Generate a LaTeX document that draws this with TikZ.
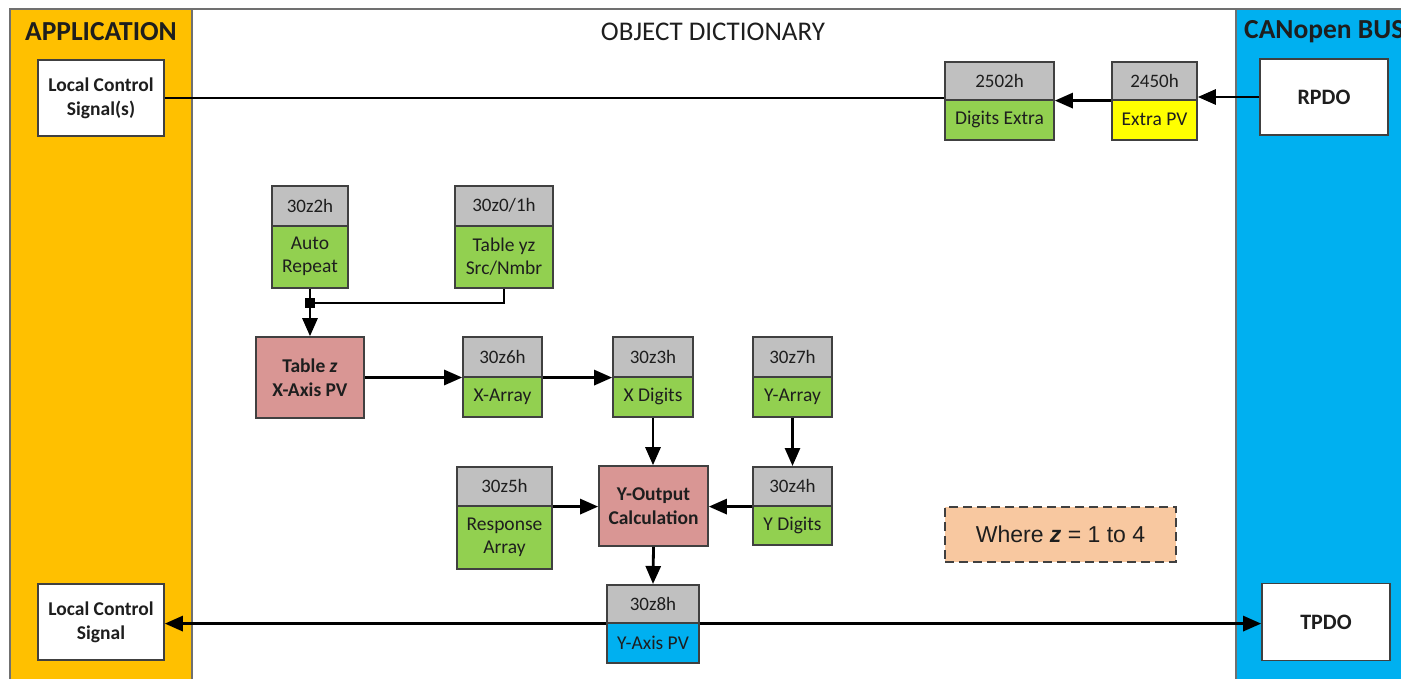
\documentclass[tikz,border=0pt]{standalone}
\usepackage{fontspec}
\setmainfont{Carlito}
\newfontfamily\arialf{Liberation Sans}
\usetikzlibrary{arrows.meta}
\definecolor{appor}{HTML}{FFC000}
\definecolor{busblue}{HTML}{00B0F0}
\definecolor{hdrgray}{HTML}{C0C0C0}
\definecolor{objgreen}{HTML}{92D050}
\definecolor{calcpink}{HTML}{D99694}
\definecolor{pvyellow}{HTML}{FFFF00}
\definecolor{notepeach}{HTML}{F8C8A0}
\definecolor{bord}{HTML}{404040}
\definecolor{panelbord}{HTML}{707070}
\definecolor{txt}{HTML}{1E1E1E}
\tikzset{
  hdr/.style={draw=bord, fill=hdrgray, line width=1.6pt, inner sep=0pt, text=txt, font=\fontsize{19}{22}\selectfont},
  bodyb/.style={draw=bord, line width=1.6pt, inner sep=0pt, align=center, text=txt, font=\fontsize{19.5}{23}\selectfont},
  sigbox/.style={draw=bord, fill=white, line width=1.6pt, inner sep=0pt, align=center, text=txt, font=\bfseries\fontsize{19.5}{24}\selectfont},
  calcbox/.style={draw=bord, fill=calcpink, line width=1.6pt, inner sep=0pt, align=center, text=txt, font=\bfseries\fontsize{19.5}{24}\selectfont},
  conn/.style={line width=2.8pt, draw=black},
  arr/.style={conn, -{Triangle[length=18pt,width=15pt]}},
}
\newcommand\objbox[9]{%
  \pgfmathsetmacro\obcx{(#2+#3)/2}%
  \pgfmathsetmacro\obw{#3-#2}%
  \pgfmathsetmacro\obhh{#5-#4}%
  \pgfmathsetmacro\obbh{#6-#5}%
  \node[hdr, minimum width=\obw pt, minimum height=\obhh pt, anchor=north] (#1h) at (\obcx,#4) {#7};
  \node[bodyb, fill=#9, minimum width=\obw pt, minimum height=\obbh pt, anchor=north] (#1b) at (\obcx,#5) {#8};
}
\begin{document}
\begin{tikzpicture}[x=1pt,y=-1pt]
\clip (0,0) rectangle (1401,679);
% panels
\fill[white] (0,0) rectangle (1401,679);
\draw[panelbord, line width=1.5pt, fill=white] (10,9) rectangle (1430,720);
\draw[panelbord, line width=1.5pt, fill=appor] (10,9) rectangle (192,720);
\draw[panelbord, line width=1.5pt, fill=busblue] (1236,9) rectangle (1430,720);
\node[font=\bfseries\fontsize{27.5}{32}\selectfont, text=txt] (tapp) at (101,32) {APPLICATION};
\node[font=\fontsize{27}{32}\selectfont, text=txt] (tod) at (713,32) {OBJECT DICTIONARY};
\node[font=\bfseries\fontsize{27.5}{32}\selectfont, text=txt, anchor=west, inner sep=0pt] (tbus) at (1244,32) {CANopen BUS};
% signal boxes
\node[sigbox, minimum width=126pt, minimum height=76pt] (lcs1) at (101,98) {Local Control\\Signal(s)};
\node[sigbox, minimum width=126pt, minimum height=76pt] (lcs2) at (101,622) {Local Control\\Signal};
\node[sigbox, minimum width=128pt, minimum height=76pt, font=\bfseries\fontsize{22}{26}\selectfont] (rpdo) at (1324,97) {RPDO};
\node[sigbox, minimum width=128pt, minimum height=77pt, font=\bfseries\fontsize{22}{26}\selectfont] (tpdo) at (1326,622) {TPDO};
% calc boxes
\node[calcbox, minimum width=108pt, minimum height=81pt] (tablez) at (310,377.5) {Table \textit{z}\\X-Axis PV};
\node[calcbox, minimum width=109pt, minimum height=80pt] (yout) at (653.5,506) {Y-Output\\Calculation};
% object boxes
\objbox{e2502}{945}{1054}{61}{99}{139}{2502h}{Digits Extra}{objgreen}
\objbox{e2450}{1112}{1197}{61}{99}{139}{2450h}{Extra PV}{pvyellow}
\objbox{ar}{272}{348}{185}{225}{287}{30z2h}{Auto\\Repeat}{objgreen}
\objbox{tyz}{455}{553}{185}{225}{287}{30z0/1h}{Table yz\\Src/Nmbr}{objgreen}
\objbox{xa}{463}{542}{336}{376}{416}{30z6h}{X-Array}{objgreen}
\objbox{xd}{613}{693}{336}{376}{416}{30z3h}{X Digits}{objgreen}
\objbox{ya}{753}{832}{336}{376}{416}{30z7h}{Y-Array}{objgreen}
\objbox{yd}{753}{832}{466}{505}{544}{30z4h}{Y Digits}{objgreen}
\objbox{ra}{457}{552}{466}{505}{568}{30z5h}{Response\\Array}{objgreen}
\objbox{yp}{607}{699}{584}{622}{662}{30z8h}{Y-Axis PV}{busblue}
% note
\node[draw=bord, dashed, dash pattern=on 9pt off 5pt, line width=1.6pt, fill=notepeach, minimum width=231pt, minimum height=55pt, font=\arialf\fontsize{23}{27}\selectfont, text=txt] (note) at (1060.5,534.5) {Where \textbf{\textit{z}} = 1 to 4};
% connectors
\draw[conn] (lcs1.east) -- (lcs1.east -| e2502h.south west);
\draw[arr] (e2450h.south west) -- (e2502h.south east);
\draw[arr] (rpdo.west) -- (rpdo.west -| e2450h.south east);
\node[fill=black, minimum size=10pt, inner sep=0pt] (jn) at (310,303) {};
\draw[conn] (arb.south) -- (jn.center);
\draw[conn] (tyzb.south) |- (jn.center);
\draw[arr] (jn.center) -- (tablez.north);
\draw[arr] (tablez.east) -- (tablez.east -| xah.south west);
\draw[arr] (xah.south east) -- (xdh.south west);
\draw[arr] (xdb.south) -- (xdb.south |- yout.north);
\draw[arr] (yab.south) -- (ydh.north);
\draw[arr] (ydh.south west) -- (ydh.south west -| yout.east);
\draw[arr] (rah.south east) -- (rah.south east -| yout.west);
\draw[arr] (yout.south) -- (yph.north);
\draw[arr] (yph.south west) -- (yph.south west -| lcs2.east);
\draw[arr] (yph.south east) -- (yph.south east -| tpdo.west);
\end{tikzpicture}
\end{document}
